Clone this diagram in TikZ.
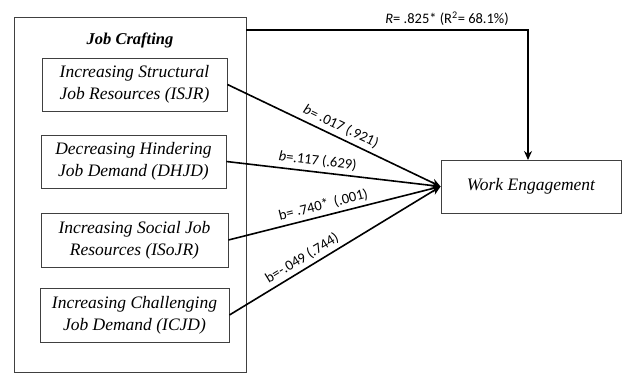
\documentclass[tikz,border=0pt]{standalone}
\usepackage{fontspec}
\setmainfont{Liberation Serif}
\newfontfamily\labfont{Carlito}
\usetikzlibrary{arrows.meta}
\begin{document}
\begin{tikzpicture}[x=1pt,y=-1pt,
  frame/.style={draw=black!75, line width=0.9pt},
  box/.style={frame, minimum width=185pt, minimum height=53pt, align=center,
    font=\fontsize{17.5}{22}\selectfont\itshape, inner sep=0pt},
  link/.style={line width=1.6pt, -{Stealth[length=9pt,width=8pt]}},
  lbl/.style={font=\labfont\fontsize{14.5}{16}\selectfont, inner sep=1pt}]
\useasboundingbox (0,0) rectangle (626,374);
\node[frame, minimum width=232pt, minimum height=355pt, inner sep=0pt] (outer) at (130,194.5) {};
\node[font=\fontsize{16.5}{18}\selectfont\bfseries\itshape] (title) at (130,40) {Job Crafting};
\node[box] (isjr) at (134.5,84.5) {Increasing Structural\\Job Resources (ISJR)};
\node[box] (dhjd) at (133.5,161.5) {Decreasing Hindering\\Job Demand (DHJD)};
\node[box, minimum width=187pt, minimum height=54pt] (isojr) at (134.5,240) {Increasing Social Job\\Resources (ISoJR)};
\node[box, minimum width=189pt, minimum height=54pt] (icjd) at (134.5,315) {Increasing Challenging\\Job Demand (ICJD)};
\node[box, minimum width=180pt] (we) at (531,186.5) {Work Engagement};
\coordinate (c1) at (246,30);
\coordinate (c2) at (528,160);
\draw[link] (c1) -| (c2);
\node[lbl] (rlab) at (447,19) {\textit{R}= .825* (R\textsuperscript{2}= 68.1\%)};
\draw[link] (isjr.east) -- node[lbl, sloped, above=3pt, pos=0.51] {\textit{b}= .017 (.921)} (we.west);
\draw[link] (dhjd.east) -- node[lbl, sloped, above=3pt, pos=0.42] {\textit{b}=.117 (.629)} (we.west);
\draw[link] (isojr.east) -- node[lbl, sloped, above=2.5pt, pos=0.46] {b= .740* \,(.001)} (we.west);
\draw[link] (icjd.east) -- node[lbl, sloped, above=2.5pt, pos=0.37] {b=-.049 (.744)} (we.west);
\end{tikzpicture}
\end{document}
